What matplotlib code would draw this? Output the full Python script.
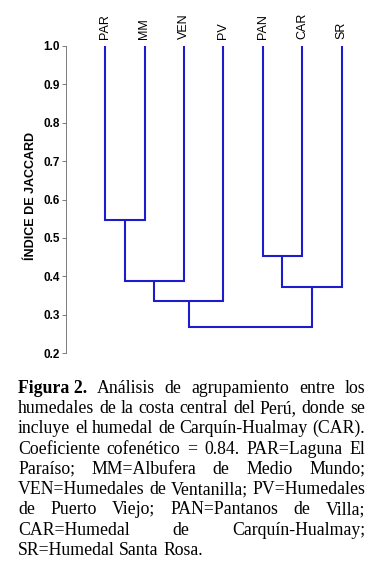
import matplotlib.pyplot as plt

leaves = ['PAR', 'MM', 'VEN', 'PV', 'PAN', 'CAR', 'SR']
# merges: (left node, right node, similarity); nodes 0-6 are leaves, 7+ are merges
merges = [(0, 1, 0.546), (7, 2, 0.388), (8, 3, 0.336),
          (4, 5, 0.453), (10, 6, 0.371), (9, 11, 0.267)]
yticks = [0.2, 0.3, 0.4, 0.5, 0.6, 0.7, 0.8, 0.9, 1.0]

caption = [
    ('Figura 2.', 'Análisis de agrupamiento entre los'),
    ('', 'humedales de la costa central del Perú, donde se'),
    ('', 'incluye el humedal de Carquín-Hualmay (CAR).'),
    ('', 'Coeficiente cofenético = 0.84. PAR=Laguna El'),
    ('', 'Paraíso; MM=Albufera de Medio Mundo;'),
    ('', 'VEN=Humedales de Ventanilla; PV=Humedales'),
    ('', 'de Puerto Viejo; PAN=Pantanos de Villa;'),
    ('', 'CAR=Humedal de Carquín-Hualmay;'),
    ('', 'SR=Humedal Santa Rosa.'),
]

W, H = 383, 565
fig = plt.figure(figsize=(W / 100, H / 100), dpi=100)
ax = fig.add_axes([65.7 / W, (H - 353) / H, 8 * 39.4 / W, 307 / H])

col = '#1c1ccc'
xs = list(range(len(leaves)))
ys = [1.0] * len(leaves)
for a, b, h in merges:
    ax.plot([xs[a], xs[a], xs[b], xs[b]], [ys[a], h, h, ys[b]],
            color=col, lw=1.5, solid_capstyle='butt', solid_joinstyle='miter')
    xs.append((xs[a] + xs[b]) / 2)
    ys.append(h)

for i, name in enumerate(leaves):
    ax.annotate(name, (i, 1.0), xytext=(0, 5), textcoords='offset points',
                rotation=90, ha='center', va='bottom', fontsize=9,
                family='Liberation Sans', annotation_clip=False)

ax.set_xlim(-1, 7)
ax.set_ylim(0.2, 1.0)
ax.set_yticks(yticks)
ax.set_yticklabels([f'{t:.1f}' for t in yticks], fontsize=8.5,
                   fontweight='bold', family='Liberation Sans')
ax.tick_params(axis='y', length=3, width=0.6, color='#666666', pad=1)
ax.set_xticks([])
for s in ['top', 'right', 'bottom']:
    ax.spines[s].set_visible(False)
ax.spines['left'].set_color('#666666')
ax.spines['left'].set_linewidth(0.6)
fig.text(30.5 / W, (H - 196) / H, 'ÍNDICE DE JACCARD', rotation=90,
         ha='center', va='center', fontsize=9, fontweight='bold',
         family='Liberation Sans')

# justified caption
fig.canvas.draw()
r = fig.canvas.get_renderer()
x0, x1 = 18, 365
fs = 12.8
y = 392.7
for k, (bold, rest) in enumerate(caption):
    words = []
    if bold:
        words.append((bold, 'bold'))
    words += [(w, 'normal') for w in rest.split()]
    arts = []
    for w, wt in words:
        t = fig.text(0, 1 - y / H, w, fontsize=fs, fontweight=wt,
                     family='Liberation Serif', va='baseline')
        arts.append(t)
    widths = [t.get_window_extent(r).width for t in arts]
    last = k == len(caption) - 1
    space = 4.4 if last else (x1 - x0 - sum(widths)) / (len(arts) - 1)
    x = x0
    for t, wd in zip(arts, widths):
        t.set_x(x / W)
        x += wd + space
    y += 20.3

fig.savefig('out.png', dpi=100)
